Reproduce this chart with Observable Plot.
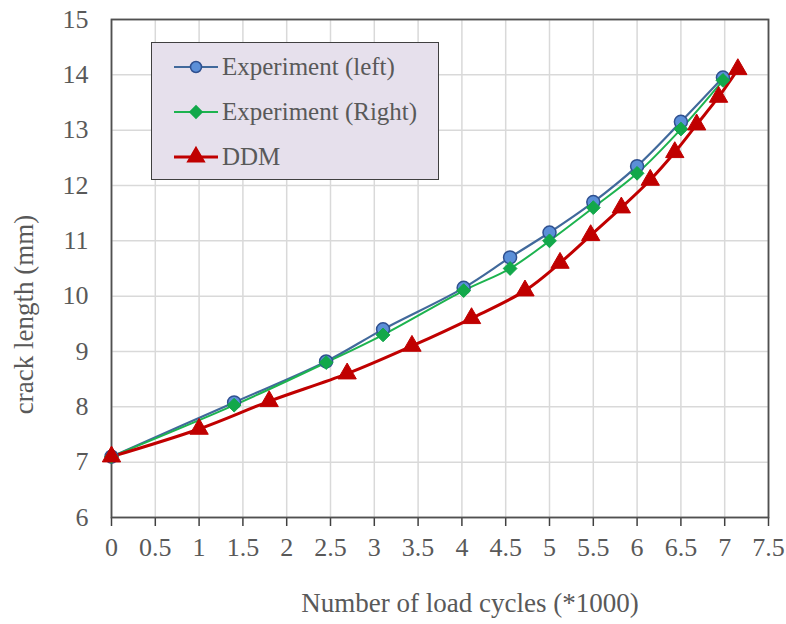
<!DOCTYPE html>
<html>
<head>
<meta charset="utf-8">
<script src="https://cdn.jsdelivr.net/npm/d3@7"></script>
<script src="https://cdn.jsdelivr.net/npm/@observablehq/plot@0.6"></script>
<style>
  body { margin: 0; background: #fff; }
  #wrap { position: relative; width: 786px; height: 624px; font-family: "Liberation Serif", "DejaVu Serif", serif; }
  #wrap svg text { font-family: "Liberation Serif", "DejaVu Serif", serif; fill: #595959; }
  #wrap svg g[aria-label="x-axis tick label"] text,
  #wrap svg g[aria-label="y-axis tick label"] text { font-size: 26px !important; }
  #wrap svg g[aria-label="x-axis label"] text,
  #wrap svg g[aria-label="y-axis label"] text { font-size: 27px !important; }
  #legend { position: absolute; left: 151px; top: 42px; width: 288px; height: 138px; background: #e6e0ec; border: 1.5px solid #404040; box-sizing: border-box; }
  .row { position: absolute; left: 20px; height: 30px; display: flex; align-items: center; color: #595959; font-size: 25px; font-family: "Liberation Serif", "DejaVu Serif", serif; }
  .row svg { margin-right: 2px; }
</style>
</head>
<body>
<div id="wrap"></div>
<script>
const seriesNames = ["Experiment (left)", "Experiment (Right)", "DDM"];

const leftX = [0, 1.4, 2.45, 3.1, 4.02, 4.55, 5.0, 5.5, 6.0, 6.5, 6.98];
const leftY = [7.1, 8.08, 8.82, 9.4, 10.15, 10.7, 11.15, 11.7, 12.35, 13.15, 13.95];

const rightX = [0, 1.4, 2.45, 3.1, 4.02, 4.55, 5.0, 5.5, 6.0, 6.5, 6.98];
const rightY = [7.1, 8.03, 8.8, 9.3, 10.1, 10.5, 11.0, 11.6, 12.22, 13.02, 13.9];

const ddmX = [0, 1.0, 1.8, 2.69, 3.43, 4.11, 4.72, 5.12, 5.47, 5.82, 6.15, 6.43, 6.68, 6.93, 7.15];
const ddmY = [7.1, 7.6, 8.1, 8.6, 9.1, 9.6, 10.1, 10.6, 11.1, 11.6, 12.1, 12.6, 13.1, 13.6, 14.1];

const xTicks = d3.range(0, 7.51, 0.5);
const yTicks = d3.range(6, 15.01, 1);

const styles = {
  "Experiment (left)": {stroke: "#41699b", fill: "#5b8fd8", markStroke: "#2f5090", symbol: "circle", r: 6.5, lr: 5.5, width: 2.2},
  "Experiment (Right)": {stroke: "#1db34f", fill: "#12a84a", markStroke: "#12a84a", symbol: "diamond2", r: 6.2, lr: 5.5, width: 2},
  "DDM": {stroke: "#c00000", fill: "#c00000", markStroke: "#c00000", symbol: "triangle", r: 6.8, lr: 6.2, width: 3}
};

const toRows = (name, xs, ys) => xs.map((x, i) => ({series: name, x, y: ys[i]}));
const left = toRows(seriesNames[0], leftX, leftY);
const right = toRows(seriesNames[1], rightX, rightY);
const ddm = toRows(seriesNames[2], ddmX, ddmY);

const fmt = d => String(d);

const lineFor = (data, name) => Plot.line(data, {x: "x", y: "y", stroke: styles[name].stroke, strokeWidth: styles[name].width, curve: "catmull-rom"});
const dotFor = (data, name) => Plot.dot(data, {x: "x", y: "y", symbol: () => styles[name].symbol, r: styles[name].r, fill: styles[name].fill, stroke: styles[name].markStroke, strokeWidth: name === "Experiment (left)" ? 1.5 : 1});

const chart = Plot.plot({
  width: 786,
  height: 624,
  marginLeft: 111,
  marginRight: 18,
  marginTop: 19,
  marginBottom: 107,
  style: {fontFamily: "'Liberation Serif', 'DejaVu Serif', serif", color: "#595959", background: "#fff"},
  symbol: {type: "identity"},
  x: {domain: [0, 7.5]},
  y: {domain: [6, 15]},
  marks: [
    Plot.gridX(xTicks, {stroke: "#d9d9d9", strokeOpacity: 1, strokeWidth: 1.5}),
    Plot.gridY(yTicks, {stroke: "#d9d9d9", strokeOpacity: 1, strokeWidth: 1.5}),
    Plot.axisX(xTicks, {tickSize: 9, tickPadding: 11, tickFormat: fmt, stroke: "#404040", strokeWidth: 1.5,
      label: "Number of load cycles (*1000)", labelAnchor: "center", labelOffset: 94, labelArrow: "none"}),
    Plot.axisY(yTicks, {tickSize: 0, tickPadding: 23, tickFormat: fmt,
      label: "crack length (mm)", labelAnchor: "center", labelOffset: 98, labelArrow: "none"}),
    Plot.frame({stroke: "#505050", strokeWidth: 1.8}),
    lineFor(left, seriesNames[0]),
    lineFor(right, seriesNames[1]),
    lineFor(ddm, seriesNames[2]),
    dotFor(left, seriesNames[0]),
    dotFor(right, seriesNames[1]),
    dotFor(ddm, seriesNames[2])
  ]
});

// shift axis titles to match the reference placement (prepend, keeping Plot's own transform)
const shift = (sel, dx, dy) => chart.querySelectorAll(sel).forEach(g => {
  const t = g.getAttribute("transform") || "";
  g.setAttribute("transform", `translate(${dx},${dy}) ${t}`);
});
shift("g[aria-label='x-axis label']", 30, 0);
shift("g[aria-label='y-axis label']", 0, 46);

const wrap = document.getElementById("wrap");
wrap.appendChild(chart);

// legend
const legend = document.createElement("div");
legend.id = "legend";
const rowTops = [9, 54, 99];
const symMap = {circle: d3.symbolCircle, diamond2: d3.symbolDiamond2, triangle: d3.symbolTriangle};
seriesNames.forEach((name, i) => {
  const s = styles[name];
  const row = document.createElement("div");
  row.className = "row";
  row.style.top = rowTops[i] + "px";
  const sw = d3.create("svg").attr("width", 48).attr("height", 30);
  sw.append("line").attr("x1", 2).attr("x2", 46).attr("y1", 15).attr("y2", 15).attr("stroke", s.stroke).attr("stroke-width", s.width);
  const size = Math.PI * s.lr * s.lr;
  sw.append("path").attr("d", d3.symbol(symMap[s.symbol], size)()).attr("transform", "translate(24,15)")
    .attr("fill", s.fill).attr("stroke", s.markStroke).attr("stroke-width", 1.5);
  row.appendChild(sw.node());
  const label = document.createElement("span");
  label.textContent = name;
  row.appendChild(label);
  legend.appendChild(row);
});
wrap.appendChild(legend);
</script>
</body>
</html>
